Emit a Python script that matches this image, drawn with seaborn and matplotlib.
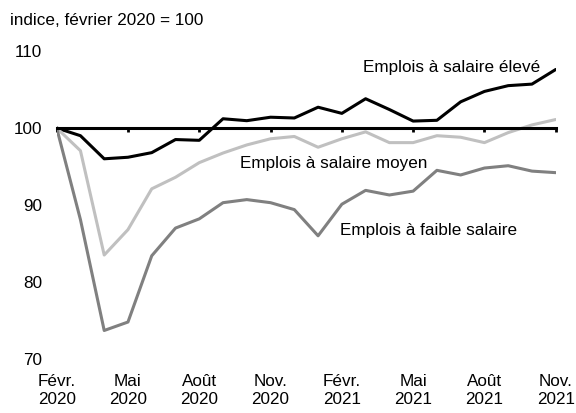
import numpy as np
import pandas as pd
import matplotlib
matplotlib.use("Agg")
import matplotlib.pyplot as plt
import seaborn as sns

# monthly index, Feb 2020 = 100
months = pd.date_range("2020-02-01", "2021-11-01", freq="MS")
tick_labels = ["Févr.\n2020", "Mai\n2020", "Août\n2020", "Nov.\n2020",
               "Févr.\n2021", "Mai\n2021", "Août\n2021", "Nov.\n2021"]

high_wage = [100, 99.0, 96.0, 96.2, 96.8, 98.5, 98.4, 101.2, 100.95, 101.4, 101.3,
             102.7, 101.9, 103.8, 102.4, 100.9, 101.0, 103.4, 104.75, 105.5, 105.7, 107.6]
mid_wage = [100, 97.05, 83.5, 86.8, 92.1, 93.6, 95.5, 96.75, 97.8, 98.6, 98.9,
            97.5, 98.6, 99.5, 98.1, 98.1, 99.0, 98.8, 98.1, 99.4, 100.4, 101.1]
low_wage = [100, 88.1, 73.7, 74.8, 83.4, 87.0, 88.2, 90.3, 90.7, 90.3, 89.4,
            86.0, 90.1, 91.9, 91.3, 91.8, 94.5, 93.9, 94.8, 95.1, 94.4, 94.2]

series_names = ["Emplois à salaire élevé", "Emplois à salaire moyen", "Emplois à faible salaire"]
colors = ["#000000", "#c0c0c0", "#808080"]

idx = np.arange(len(months))
df = pd.concat([
    pd.DataFrame({"mois": idx, "indice": vals, "serie": name})
    for name, vals in zip(series_names, [high_wage, mid_wage, low_wage])
])

sns.set_theme(style="white")
plt.rcParams["font.family"] = ["Liberation Sans", "DejaVu Sans"]
fs = 12.3

fig = plt.figure(figsize=(5.76, 4.13), dpi=100)
ax = fig.add_axes([0.0984, 0.1308, 0.8664, 0.7457])

sns.lineplot(data=df, x="mois", y="indice", hue="serie", palette=colors,
             linewidth=2.2, legend=False, ax=ax)

ax.set_xlim(0, len(months) - 1)
ax.set_ylim(70, 110)
ax.set_yticks([70, 80, 90, 100, 110])
ax.set_xlabel("")
ax.set_ylabel("")

for s in ["top", "right", "left"]:
    ax.spines[s].set_visible(False)
ax.spines["bottom"].set_position(("data", 100))
ax.spines["bottom"].set_color("black")
ax.spines["bottom"].set_linewidth(2.2)

ticks = idx[::3]
ax.set_xticks(ticks)
ax.tick_params(axis="x", direction="out", length=3, width=2, color="black",
               labelbottom=False, bottom=True)
ax.tick_params(axis="y", length=0, pad=10.5, labelsize=fs, colors="black")

sec = ax.secondary_xaxis("bottom")
sec.set_xticks(ticks)
sec.set_xticklabels(tick_labels)
sec.spines["bottom"].set_visible(False)
sec.tick_params(length=0, pad=10.5, labelsize=fs, colors="black")
for lab in sec.get_xticklabels():
    lab.set_linespacing(1.3)

ax.text(12.89, 107.9, series_names[0], ha="left", va="center", fontsize=fs, color="black")
ax.text(7.71, 95.45, series_names[1], ha="left", va="center", fontsize=fs, color="black")
ax.text(11.92, 86.7, series_names[2], ha="left", va="center", fontsize=fs, color="black")

fig.text(0.017, 0.951, "indice, février 2020 = 100", ha="left", va="center",
         fontsize=fs, color="black")

fig.savefig("out.png", dpi=100)
